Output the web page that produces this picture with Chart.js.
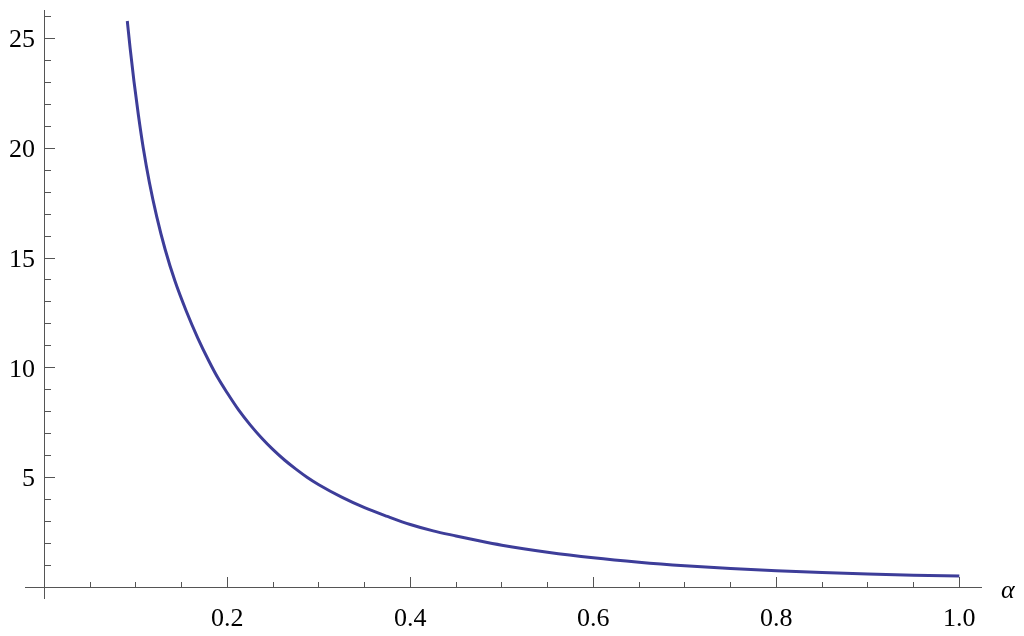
<!DOCTYPE html>
<html><head><meta charset="utf-8">
<script src="https://cdn.jsdelivr.net/npm/chart.js@4.4.1/dist/chart.umd.min.js"></script>
<style>html,body{margin:0;padding:0;background:#fff}#wrap{width:1024px;height:636px;position:relative}</style>
</head><body><div id="wrap"><canvas id="c" width="1024" height="636"></canvas></div>
<script>
// Data
const alpha = [0.0907,0.0937,0.098,0.1027,0.1082,0.1148,0.1228,0.132,0.1428,0.155,0.1675,0.18,0.19,0.2,0.2125,0.225,0.2375,0.25,0.2625,0.275,0.2875,0.3,0.325,0.35,0.375,0.4,0.425,0.45,0.475,0.5,0.55,0.6,0.65,0.7,0.75,0.8,0.85,0.9,0.95,1.0];
const values = [25.8,24.6,23.05,21.55,20.0,18.45,16.9,15.4,13.95,12.6,11.38,10.3,9.52,8.85,8.07,7.4,6.8,6.27,5.8,5.385,5.005,4.675,4.11,3.63,3.23,2.86,2.57,2.34,2.12,1.92,1.6,1.345,1.145,0.985,0.858,0.755,0.67,0.605,0.555,0.513];
const xMajorTicks = [0.2,0.4,0.6,0.8,1.0];
const xMinorTicks = [0.05,0.1,0.15,0.25,0.3,0.35,0.45,0.5,0.55,0.65,0.7,0.75,0.85,0.9,0.95];
const yMajorTicks = [5,10,15,20,25];
const yMinorTicks = [1,2,3,4,6,7,8,9,11,12,13,14,16,17,18,19,21,22,23,24,26];
const xLabel = 'α';

const X_MIN = -0.0211, X_MAX = 1.0237;
const Y_MIN = -0.487, Y_MAX = 26.3;
const Y_LABEL_X = -0.0102;   // where the right edge of the y tick labels sits (in α units)
const AXIS = '#555555';
const FONT = {family: '"Liberation Serif", "Times New Roman", serif', size: 26};

function fitX(s) { s.height = 0; s.paddingLeft = 0; s.paddingRight = 0; s.paddingTop = 0; s.paddingBottom = 0; }
function fitY(s) { s.width = 0; s.paddingLeft = 0; s.paddingRight = 0; s.paddingTop = 0; s.paddingBottom = 0; }

function axisBase(extra) {
  return Object.assign({
    type: 'linear',
    border: {display: true, color: AXIS, width: 1},
  }, extra);
}

const axisTitle = {
  id: 'axisTitle',
  afterDraw(chart) {
    const ctx = chart.ctx, xs = chart.scales.x, ys = chart.scales.y;
    ctx.save();
    ctx.font = 'italic 26px "Liberation Serif", serif';
    ctx.fillStyle = '#000';
    ctx.textAlign = 'left';
    ctx.textBaseline = 'alphabetic';
    ctx.fillText(xLabel, xs.right + 20, ys.getPixelForValue(0) + 10.5);
    ctx.restore();
  }
};

new Chart(document.getElementById('c'), {
  type: 'scatter',
  data: {
    datasets: [{
      data: alpha.map((a, i) => ({x: a, y: values[i]})),
      showLine: true,
      borderColor: '#3d3d99',
      borderWidth: 3,
      pointRadius: 0,
      cubicInterpolationMode: 'monotone',
      fill: false
    }]
  },
  options: {
    responsive: false,
    animation: false,
    devicePixelRatio: 1,
    layout: {padding: {left: 25, right: 43, top: 10, bottom: 38}},
    plugins: {legend: {display: false}, tooltip: {enabled: false}},
    scales: {
      x: axisBase({
        min: X_MIN, max: X_MAX, position: {y: 0},
        afterFit: fitX,
        afterBuildTicks(s) { s.ticks = xMajorTicks.map(v => ({value: v})); },
        grid: {drawOnChartArea: false, drawTicks: true, tickLength: -11, tickColor: AXIS, tickWidth: 1},
        ticks: {padding: 27, font: FONT, color: '#000', autoSkip: false, maxRotation: 0,
                callback: v => Number(v).toFixed(1)}
      }),
      x2: axisBase({
        axis: 'x', min: X_MIN, max: X_MAX, position: {y: 0},
        afterFit: fitX,
        afterBuildTicks(s) { s.ticks = xMinorTicks.map(v => ({value: v})); },
        grid: {drawOnChartArea: false, drawTicks: true, tickLength: -6, tickColor: AXIS, tickWidth: 1},
        ticks: {display: false, autoSkip: false}
      }),
      // value scale of the curve; draws only the tick labels
      y: {
        type: 'linear',
        min: Y_MIN, max: Y_MAX, position: {x: Y_LABEL_X},
        afterFit: fitY,
        afterBuildTicks(s) { s.ticks = yMajorTicks.map(v => ({value: v})); },
        border: {display: false},
        grid: {display: false},
        ticks: {padding: 0, labelOffset: 2, font: FONT, color: '#000', autoSkip: false,
                callback: v => String(v)}
      },
      // y axis line + major ticks
      y1: axisBase({
        axis: 'y', min: Y_MIN, max: Y_MAX, position: {x: 0},
        afterFit: fitY,
        afterBuildTicks(s) { s.ticks = yMajorTicks.map(v => ({value: v})); },
        grid: {drawOnChartArea: false, drawTicks: true, tickLength: -11, tickColor: AXIS, tickWidth: 1},
        ticks: {display: false, autoSkip: false}
      }),
      // y minor ticks
      y2: axisBase({
        axis: 'y', min: Y_MIN, max: Y_MAX, position: {x: 0},
        afterFit: fitY,
        afterBuildTicks(s) { s.ticks = yMinorTicks.map(v => ({value: v})); },
        grid: {drawOnChartArea: false, drawTicks: true, tickLength: -7, tickColor: AXIS, tickWidth: 1},
        ticks: {display: false, autoSkip: false}
      })
    }
  },
  plugins: [axisTitle]
});
</script>
</body></html>
